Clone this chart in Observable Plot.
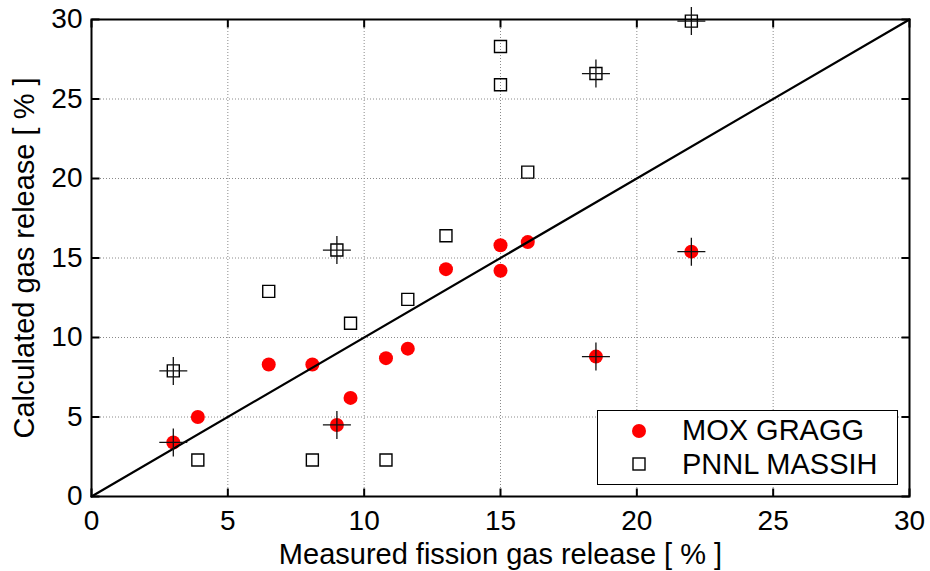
<!DOCTYPE html>
<html><head><meta charset="utf-8">
<script src="https://cdn.jsdelivr.net/npm/d3@7"></script>
<script src="https://cdn.jsdelivr.net/npm/@observablehq/plot@0.6"></script>
<style>
body{margin:0;background:#fff;}
#chart{position:relative;width:930px;height:571px;}
</style>
</head><body><div id="chart"></div>
<script>
// Measured fission gas release (x) shared by both series
const measured = [3, 3.9, 6.5, 8.1, 9, 9.5, 10.8, 11.6, 13, 15, 15, 16, 18.5, 22];
// Calculated gas release
const moxGragg = [3.4, 5.0, 8.3, 8.3, 4.5, 6.2, 8.7, 9.3, 14.3, 15.8, 14.2, 16.0, 8.8, 15.4];
const pnnlMassih = [7.9, 2.3, 12.9, 2.3, 15.5, 10.9, 2.3, 12.4, 16.4, 28.3, 25.9, 20.4, 26.6, 29.9];
// Indices of points that carry a "+" marker
const crossIndex = [0, 4, 12, 13];
const tickValues = [0, 5, 10, 15, 20, 25, 30];
const gridValues = [5, 10, 15, 20, 25];
const diagonal = [0, 30];
const seriesNames = ["MOX GRAGG", "PNNL MASSIH"];
const xLabel = "Measured fission gas release [ % ]";
const yLabel = "Calculated gas release [ % ]";

const mox = measured.map((x, i) => ({x, y: moxGragg[i]}));
const pnnl = measured.map((x, i) => ({x, y: pnnlMassih[i]}));
const crosses = crossIndex.flatMap(i => [mox[i], pnnl[i]]);

const rOf = s => Math.sqrt(s / Math.PI);
const plusSym = {draw(c, s){const r = rOf(s); c.moveTo(-r,0); c.lineTo(r,0); c.moveTo(0,-r); c.lineTo(0,r);}};
const squareSym = {draw(c, s){const r = rOf(s); c.rect(-r,-r,2*r,2*r);}};
const tUp = {draw(c, s){const r = rOf(s); c.moveTo(0,0); c.lineTo(0,-r);}};
const tDown = {draw(c, s){const r = rOf(s); c.moveTo(0,0); c.lineTo(0,r);}};
const tRight = {draw(c, s){const r = rOf(s); c.moveTo(0,0); c.lineTo(r,0);}};
const tLeft = {draw(c, s){const r = rOf(s); c.moveTo(0,0); c.lineTo(-r,0);}};

const font = "'Liberation Sans', Arial, Helvetica, sans-serif";
const tickStyle = {r: 8, stroke: "black", strokeWidth: 2, fill: "none"};

const chart = Plot.plot({
  width: 930, height: 571,
  marginLeft: 91, marginRight: 21, marginTop: 19, marginBottom: 75,
  style: {fontFamily: font, fontSize: "28px", background: "white", overflow: "visible"},
  x: {domain: [0, 30]},
  y: {domain: [0, 30]},
  marks: [
    Plot.gridX(gridValues, {stroke: "#8a8a8a", strokeOpacity: 1, strokeWidth: 1, strokeDasharray: "1,2"}),
    Plot.gridY(gridValues, {stroke: "#8a8a8a", strokeOpacity: 1, strokeWidth: 1, strokeDasharray: "1,2"}),
    Plot.dot(mox, {x: "x", y: "y", r: 7, fill: "#ff0000", stroke: "none"}),
    Plot.dot(pnnl, {x: "x", y: "y", symbol: squareSym, r: 6, stroke: "black", strokeWidth: 1.4, fill: "none"}),
    Plot.line(diagonal, {x: d => d, y: d => d, stroke: "black", strokeWidth: 2.2}),
    Plot.dot(crosses, {x: "x", y: "y", symbol: plusSym, r: 14, stroke: "#111", strokeWidth: 1.3, fill: "none"}),
    Plot.frame({stroke: "black", strokeWidth: 2}),
    Plot.dot(tickValues, {x: d => d, frameAnchor: "bottom", symbol: tUp, ...tickStyle}),
    Plot.dot(tickValues, {x: d => d, frameAnchor: "top", symbol: tDown, ...tickStyle}),
    Plot.dot(tickValues, {y: d => d, frameAnchor: "left", symbol: tRight, ...tickStyle}),
    Plot.dot(tickValues, {y: d => d, frameAnchor: "right", symbol: tLeft, ...tickStyle}),
    Plot.axisX(tickValues, {anchor: "bottom", tickSize: 0, tickPadding: 14, fontSize: 28, label: null, fill: "black"}),
    Plot.axisY(tickValues, {anchor: "left", tickSize: 0, tickPadding: 9, fontSize: 28, label: null, fill: "black"}),
    Plot.text([xLabel], {frameAnchor: "bottom", dy: 67, lineAnchor: "bottom", textAnchor: "middle", fontSize: 29, fill: "black"}),
    Plot.text([yLabel], {frameAnchor: "left", dx: -58, rotate: -90, lineAnchor: "bottom", textAnchor: "middle", fontSize: 29, fill: "black"})
  ]
});
document.getElementById("chart").appendChild(chart);

// Legend inside the plot (lower right)
const svg = d3.select(chart);
const lg = svg.append("g").attr("font-family", font).attr("font-size", 29).attr("text-anchor", "start");
lg.append("rect").attr("x", 597.5).attr("y", 410.5).attr("width", 300).attr("height", 74)
  .attr("fill", "white").attr("stroke", "black").attr("stroke-width", 1);
lg.append("circle").attr("cx", 639).attr("cy", 431).attr("r", 7).attr("fill", "#ff0000");
lg.append("rect").attr("x", 633).attr("y", 458).attr("width", 12).attr("height", 12)
  .attr("fill", "none").attr("stroke", "black").attr("stroke-width", 1.4);
lg.append("text").attr("x", 682).attr("y", 440).attr("fill", "black").text(seriesNames[0]);
lg.append("text").attr("x", 682).attr("y", 474).attr("fill", "black").text(seriesNames[1]);
</script>
</body></html>
